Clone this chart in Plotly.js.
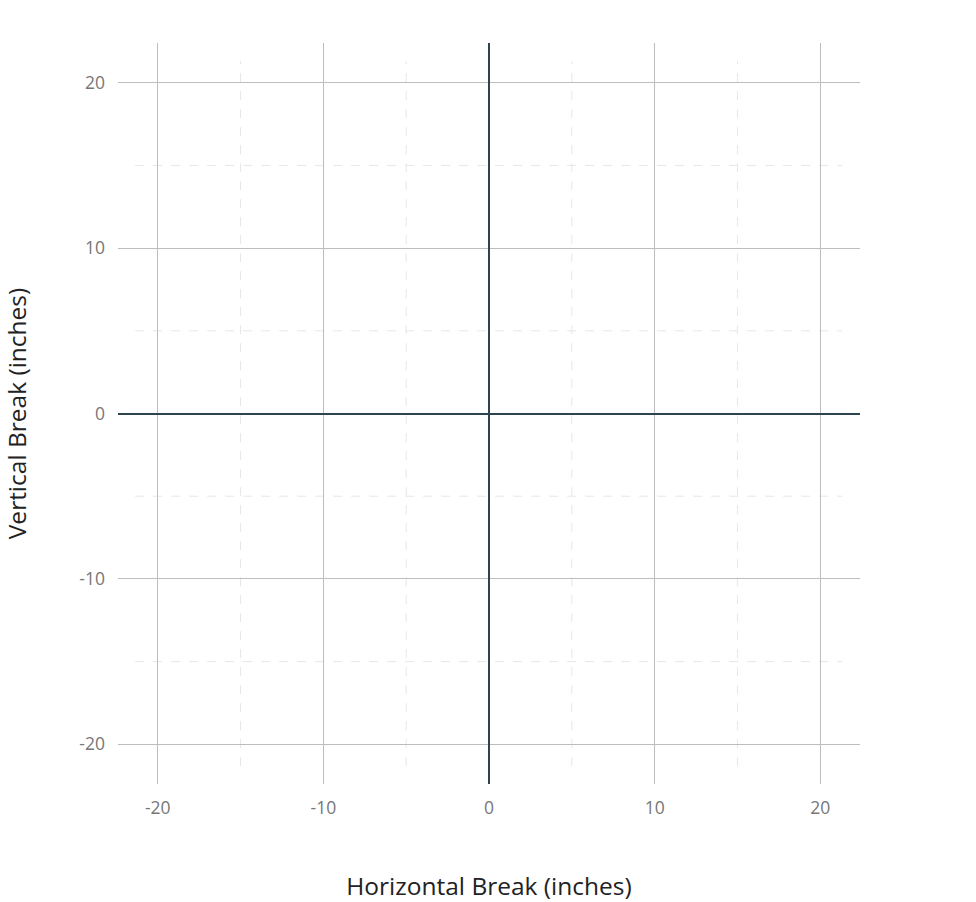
<!DOCTYPE html>
<html>
<head>
<meta charset="utf-8">
<script src="https://cdn.plot.ly/plotly-3.0.1.min.js"></script>
<style>
  html, body { margin: 0; padding: 0; background: #fff; }
  #plot { width: 976px; height: 902px; }
</style>
</head>
<body>
<div id="plot"></div>
<script>
// empty break chart - only the grid is drawn
var breakX = [];
var breakY = [];

var majorTicks = [-20, -10, 0, 10, 20];
var minorTicks = [-15, -5, 5, 15];
var axisRange = [-22.4, 22.4];

var trace = {
  x: breakX,
  y: breakY,
  type: 'scatter',
  mode: 'markers',
  showlegend: false,
  hoverinfo: 'skip'
};

// dashed minor grid, a bit shorter than the plot area
var shapes = [];
minorTicks.forEach(function (v) {
  shapes.push({
    type: 'line', xref: 'x', yref: 'paper',
    x0: v, x1: v, y0: 0.024, y1: 0.976,
    line: { color: '#e4e8ea', width: 1, dash: 'dash' },
    layer: 'below'
  });
  shapes.push({
    type: 'line', xref: 'paper', yref: 'y',
    x0: 0.023, x1: 0.976, y0: v, y1: v,
    line: { color: '#e4e8ea', width: 1, dash: 'dash' },
    layer: 'below'
  });
});

var tickFont = { family: 'Open Sans, sans-serif', size: 17.5, color: '#777777' };
var titleFont = { family: 'Open Sans, sans-serif', size: 24.5, color: '#222' };

var layout = {
  width: 976,
  height: 902,
  margin: { l: 118, r: 116, t: 43, b: 118 },
  paper_bgcolor: '#ffffff',
  plot_bgcolor: '#ffffff',
  showlegend: false,
  xaxis: {
    range: axisRange,
    tickvals: majorTicks,
    ticktext: majorTicks.map(String),
    showgrid: true,
    gridcolor: '#bdbdbd',
    gridwidth: 1,
    zeroline: true,
    zerolinecolor: '#2d434d',
    zerolinewidth: 2,
    showline: false,
    ticks: '',
    ticklabelstandoff: 11,
    tickfont: tickFont,
    automargin: false,
    fixedrange: true,
    title: { text: 'Horizontal Break (inches)', font: titleFont, standoff: 61 }
  },
  yaxis: {
    range: axisRange,
    tickvals: majorTicks,
    ticktext: majorTicks.map(String),
    showgrid: true,
    gridcolor: '#bdbdbd',
    gridwidth: 1,
    zeroline: true,
    zerolinecolor: '#2d434d',
    zerolinewidth: 2,
    showline: false,
    ticks: '',
    ticklabelstandoff: 12,
    tickfont: tickFont,
    automargin: false,
    fixedrange: true,
    title: { text: 'Vertical Break (inches)', font: titleFont, standoff: 62 }
  },
  shapes: shapes
};

Plotly.newPlot('plot', [trace], layout, { displayModeBar: false, staticPlot: true });
</script>
</body>
</html>
